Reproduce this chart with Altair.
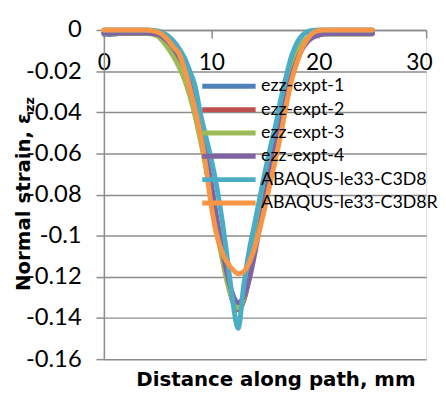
import altair as alt
import pandas as pd

# ---------------- data ----------------
x_mm = [0, 0.5, 1, 1.5, 2, 2.5, 3, 3.5, 4, 4.5, 5, 5.5, 6, 6.5, 7, 7.5, 8, 8.5, 9, 9.5,
        10, 10.5, 11, 11.5, 12, 12.5, 13, 13.5, 14, 14.5, 15, 15.5, 16, 16.5, 17, 17.5,
        18, 18.5, 19, 19.5, 20, 20.5, 21, 21.5, 22, 22.5, 23, 23.5, 24, 24.5, 25]

series_names = ["ezz-expt-1", "ezz-expt-2", "ezz-expt-3", "ezz-expt-4",
                "ABAQUS-le33-C3D8", "ABAQUS-le33-C3D8R"]
series_colors = ["#4F81BD", "#C0504D", "#9BBB59", "#8064A2", "#4BACC6", "#F79646"]

ezz_expt_1 = [-0.002, -0.0022, -0.002, -0.0016, -0.0015, -0.0015, -0.0015, -0.0015, -0.0015, -0.0018,
              -0.0025, -0.004, -0.0065, -0.010, -0.0145, -0.020, -0.028, -0.038, -0.050, -0.063,
              -0.078, -0.094, -0.109, -0.1215, -0.1315, -0.1355, -0.1315, -0.121, -0.107, -0.092,
              -0.077, -0.063, -0.050, -0.038, -0.027, -0.018, -0.011, -0.0065, -0.004, -0.0025,
              -0.002, -0.0015, -0.0015, -0.0015, -0.0015, -0.0015, -0.0015, -0.0015, -0.0015, -0.0015, -0.0015]
ezz_expt_2 = [-0.0015, -0.0015, -0.0015, -0.0015, -0.0015, -0.0015, -0.0015, -0.0015, -0.0015, -0.0018,
              -0.0025, -0.004, -0.0065, -0.010, -0.0145, -0.020, -0.028, -0.038, -0.050, -0.063,
              -0.078, -0.094, -0.109, -0.122, -0.132, -0.136, -0.132, -0.121, -0.107, -0.092,
              -0.077, -0.063, -0.050, -0.038, -0.027, -0.018, -0.011, -0.0065, -0.004, -0.0025,
              -0.002, -0.0015, -0.0015, -0.0015, -0.0015, -0.0015, -0.0015, -0.0015, -0.0015, -0.0015, -0.0015]
ezz_expt_3 = [-0.0015, -0.0015, -0.0015, -0.0015, -0.0015, -0.0015, -0.0015, -0.0016, -0.0017, -0.002,
              -0.003, -0.0055, -0.009, -0.013, -0.018, -0.024, -0.032, -0.042, -0.054, -0.067,
              -0.082, -0.097, -0.111, -0.123, -0.131, -0.135, -0.131, -0.120, -0.106, -0.091,
              -0.076, -0.062, -0.049, -0.037, -0.026, -0.017, -0.0105, -0.006, -0.0038, -0.0027,
              -0.0022, -0.002, -0.002, -0.002, -0.002, -0.002, -0.002, -0.002, -0.002, -0.002, -0.002]
ezz_expt_4 = [-0.0015, -0.0015, -0.0015, -0.0015, -0.0015, -0.0015, -0.0015, -0.0015, -0.0015, -0.0017,
              -0.0022, -0.0035, -0.0058, -0.009, -0.013, -0.018, -0.025, -0.035, -0.047, -0.060,
              -0.075, -0.091, -0.106, -0.119, -0.1285, -0.1325, -0.130, -0.122, -0.110, -0.096,
              -0.082, -0.068, -0.055, -0.043, -0.032, -0.022, -0.0145, -0.009, -0.0055, -0.0035,
              -0.0025, -0.002, -0.0018, -0.0018, -0.0018, -0.0018, -0.0018, -0.0018, -0.0018, -0.0018, -0.0018]
abaqus_c3d8 = [0, 0, 0, 0, 0, 0, 0, 0, 0, -0.0002,
               -0.0005, -0.0015, -0.003, -0.0055, -0.009, -0.0135, -0.020, -0.0275, -0.041, -0.052,
               -0.063, -0.076, -0.092, -0.1115, -0.132, -0.145, -0.125, -0.108, -0.095, -0.082,
               -0.069, -0.057, -0.046, -0.033, -0.022, -0.0122, -0.006, -0.0025, -0.0008, -0.0002,
               0, 0, 0, 0, 0, 0, 0, 0, 0, 0, 0]
abaqus_c3d8r = [0, 0, 0, 0, 0, 0, 0, 0, 0, -0.0003,
                -0.001, -0.0025, -0.005, -0.0085, -0.0115, -0.019, -0.0283, -0.039, -0.051, -0.0665,
                -0.0855, -0.0995, -0.108, -0.113, -0.1165, -0.1185, -0.1175, -0.1135, -0.1065, -0.097,
                -0.086, -0.074, -0.0625, -0.050, -0.036, -0.024, -0.0155, -0.0085, -0.004, -0.0012,
                -0.0003, 0, 0, 0, 0, 0, 0, 0, 0, 0, 0]

series_values = [ezz_expt_1, ezz_expt_2, ezz_expt_3, ezz_expt_4, abaqus_c3d8, abaqus_c3d8r]

x_ticks = [0, 10, 20, 30]
y_ticks = [0, -0.02, -0.04, -0.06, -0.08, -0.1, -0.12, -0.14, -0.16]

x_title = "Distance along path, mm"
y_title_main = "Normal strain, ε"
y_title_sub = "zz"

# ---------------- build table ----------------
rows = []
for k, (name, vals) in enumerate(zip(series_names, series_values)):
    for xv, yv in zip(x_mm, vals):
        rows.append({"series": name, "k": k, "x": xv, "y": yv})
df = pd.DataFrame(rows)

GRID = "#8C8C8C"
FONT = "Lato"
TFONT = "DejaVu Sans"
W, H = 326, 333

lines = alt.Chart(df).mark_line(
    strokeWidth=5, interpolate="monotone", strokeCap="round", strokeJoin="round"
).encode(
    x=alt.X("x:Q", scale=alt.Scale(domain=[0, 30], nice=False),
            axis=alt.Axis(values=x_ticks, orient="bottom", offset=-H, title=None, grid=False,
                          domainColor=GRID, domainWidth=1.5, tickColor=GRID, tickWidth=1.5,
                          tickSize=8, labelFont=FONT, labelFontSize=23, labelColor="#000000",
                          labelPadding=14, labelFlush=False,
                          labelAlign={"condition": {"test": "datum.value == 30", "value": "right"},
                                      "value": "center"},
                          labelOffset={"condition": {"test": "datum.value == 30", "value": 6},
                                       "value": 0})),
    y=alt.Y("y:Q", scale=alt.Scale(domain=[-0.16, 0], nice=False),
            axis=alt.Axis(values=y_ticks, title=None, grid=True, gridColor=GRID, gridWidth=1.5,
                          domainColor=GRID, domainWidth=1.5, tickColor=GRID, tickWidth=1.5,
                          tickSize=8, labelFont=FONT, labelFontSize=24, labelColor="#000000",
                          labelPadding=15,
                          labelExpr="datum.value == 0 ? '0' : '-' + format(abs(datum.value), '.2~f')")),
    color=alt.Color("series:N", scale=alt.Scale(domain=series_names, range=series_colors),
                    legend=alt.Legend(orient="none", legendX=97, legendY=47, title=None,
                                      symbolType="stroke", symbolSize=2916, symbolStrokeWidth=5,
                                      clipHeight=20, rowPadding=3.6, padding=0, labelOffset=3,
                                      labelLimit=200,
                                      labelFont=FONT, labelFontSize=18, labelColor="#000000")),
    order=alt.Order("k:Q"),
    detail="k:Q",
)

one = pd.DataFrame({"a": [0]})
xt = alt.Chart(one).mark_text(text=x_title, font=TFONT, fontSize=20, fontWeight="bold",
                              align="center", baseline="alphabetic", color="#000000").encode(
    x=alt.value(174), y=alt.value(360))
yt = alt.Chart(one).mark_text(text=y_title_main, font=TFONT, fontSize=20, fontWeight="bold",
                              angle=270, align="right", baseline="alphabetic", color="#000000").encode(
    x=alt.value(-75), y=alt.value(84))
yz = alt.Chart(one).mark_text(text=y_title_sub, font=TFONT, fontSize=13, fontWeight="bold",
                              angle=270, align="left", baseline="alphabetic", color="#000000").encode(
    x=alt.value(-71), y=alt.value(83))

chart = alt.layer(lines, xt, yt, yz).properties(
    width=W, height=H,
    padding={"left": 97, "top": 20, "right": 12, "bottom": 31},
    autosize=alt.AutoSizeParams(type="none"),
).configure_view(stroke=None).configure(background="#FFFFFF")

chart.save("out.html", embed_options={"renderer": "svg", "actions": False})
